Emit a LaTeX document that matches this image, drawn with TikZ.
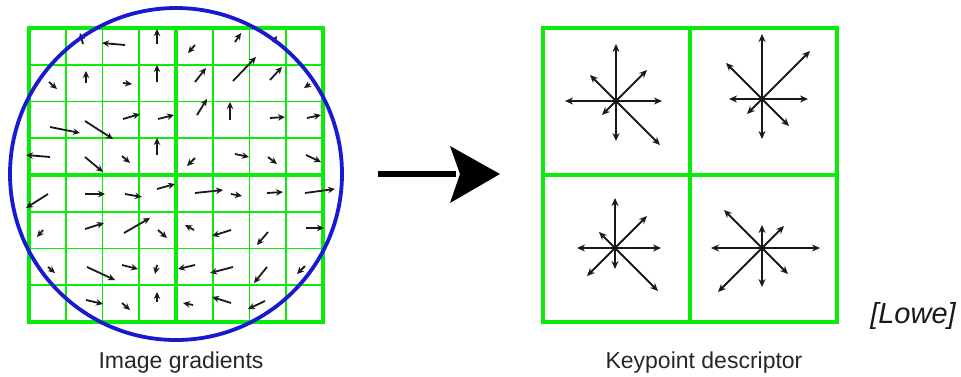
\documentclass[tikz,border=0pt]{standalone}
\usepackage{fontspec}
\setmainfont{Liberation Sans}
\usetikzlibrary{arrows.meta}
\definecolor{gridgreen}{RGB}{10,235,10}
\definecolor{circblue}{RGB}{25,25,210}
\begin{document}
\begin{tikzpicture}[x=1pt,y=-1pt,
  thingrid/.style={gridgreen, line width=1.7pt},
  thickgrid/.style={gridgreen, line width=3.4pt},
  grad/.style={black!90, line width=1.8pt, -{Stealth[length=7pt,width=6.5pt]}},
  hist/.style={black!90, line width=1.8pt, -{Stealth[length=8pt,width=7pt]}},
  caption/.style={font=\fontsize{23}{26}\selectfont, text=black!85, inner sep=0pt, anchor=base}]
\useasboundingbox (0,0) rectangle (961,376);
% ---- left grid ----
\foreach \i in {1,2,3,5,6,7}{
  \draw[thingrid] ({29+36.75*\i},28) -- ({29+36.75*\i},322);
  \draw[thingrid] (29,{28+36.75*\i}) -- (323,{28+36.75*\i});
}
\draw[thickgrid] (29,28) rectangle (323,322);
\draw[thickgrid] (176,28) -- (176,322);
\draw[thickgrid] (29,175) -- (323,175);
% ---- gradient arrows ----
\foreach \xa/\ya/\xb/\yb in {
 83/44/80/33, 125/45/102/43, 157/44/157/29,
 49/82/57/89, 86/83/86/71, 123/83/132/84, 157/82/157/65,
 50/127/80/133, 85/121/113/139, 123/119/140/114, 158/119/174/115,
 50/157/26/155, 85/157/103/172, 122/156/130/163, 157/155/157/138,
 195/45/188/53, 235/42/241/33, 273/42/277/36,
 195/82/206/68, 233/81/256/57, 270/80/282/67, 310/84/304/88,
 197/115/207/99, 230/120/230/102, 270/118/285/117, 307/118/321/115,
 195/158/187/166, 235/154/249/157, 268/157/277/164, 306/155/321/162,
 48/194/26/208, 85/194/105/194, 125/194/142/197, 157/189/175/184,
 195/193/223/190, 231/194/242/196, 267/193/283/192, 305/193/335/189,
 43/230/37/237, 85/229/104/223, 124/233/150/218, 158/230/167/238,
 194/230/185/225, 231/230/212/236, 268/232/257/245, 306/228/324/228,
 48/267/55/273, 87/267/115/280, 122/265/138/269, 157/265/155/274,
 195/265/178/269, 233/267/210/273, 267/267/254/283, 305/266/297/274,
 86/300/103/304, 122/303/130/310, 157/302/157/292,
 193/305/183/303, 231/303/212/297, 265/301/248/309}{
  \draw[grad] (\xa,\ya) -- (\xb,\yb);
}
% ---- circle ----
\draw[circblue, line width=3.8pt] (176,174) circle (166);
% ---- big arrow ----
\coordinate (bs) at (378,174);
\coordinate (bm) at (456,174);
\coordinate (be) at (500,174);
\draw[black, line width=6.5pt] (bs) -- (bm);
\fill[black] (be) -- (450,146) -- (460,174) -- (450,203) -- cycle;
% ---- right grid ----
\draw[thickgrid] (543,28) rectangle (837,322);
\draw[thickgrid] (690,28) -- (690,322);
\draw[thickgrid] (543,175) -- (837,175);
% ---- orientation histograms ----
\foreach \cx/\cy/\a/\b/\c/\d/\e/\f/\g/\h in {
  616/101/57/46/51/40/31/26/14/44,
  762/99/65/46/33/40/48/36/15/27,
  615/248/50/46/38/21/32/16/28/43,
  762/248/23/58/51/39/22/38/44/26}{
  \coordinate (c) at (\cx,\cy);
  \draw[hist] (c) -- ++(0,-\a);
  \draw[hist] (c) -- ++(\b,0);
  \draw[hist] (c) -- ++(-\c,0);
  \draw[hist] (c) -- ++(0,\d);
  \draw[hist] (c) -- ++(\e,-\e);
  \draw[hist] (c) -- ++(-\f,-\f);
  \draw[hist] (c) -- ++(-\g,\g);
  \draw[hist] (c) -- ++(\h,\h);
}
% ---- labels ----
\node[caption] (lg) at (181,368) {Image gradients};
\node[caption] (ld) at (704,368) {Keypoint descriptor};
\node[font=\fontsize{29}{32}\selectfont\itshape, text=black!90, inner sep=0pt, anchor=base] (lowe) at (913,323) {[Lowe]};
\end{tikzpicture}
\end{document}
